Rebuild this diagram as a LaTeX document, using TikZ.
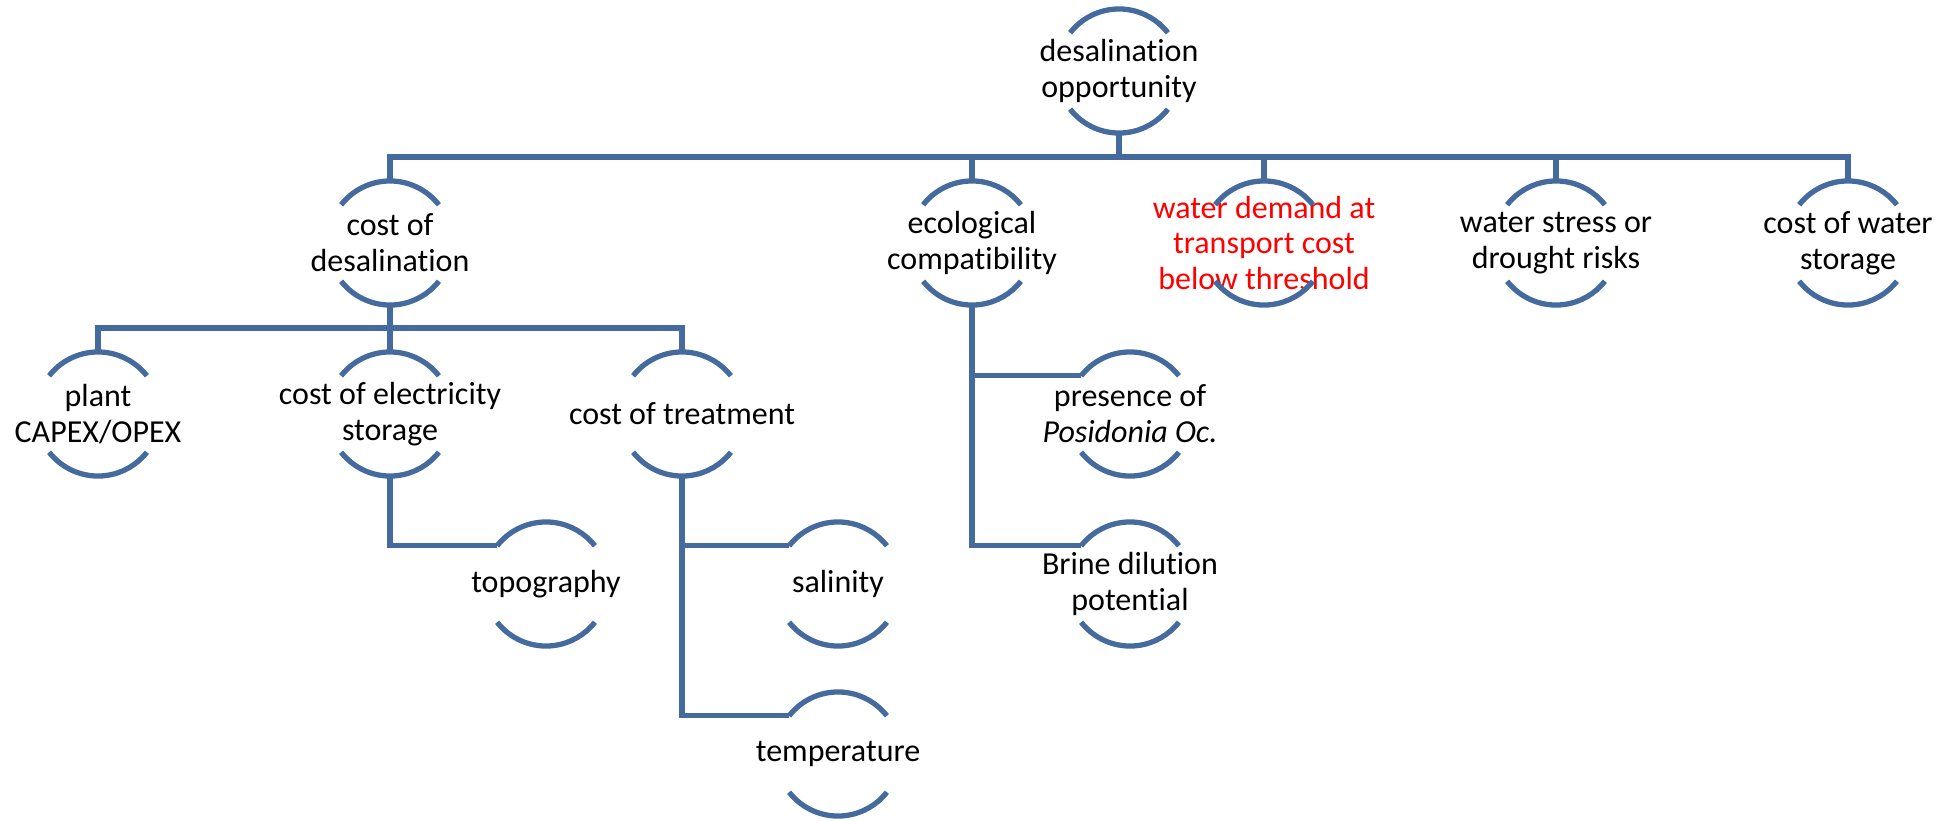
\documentclass[tikz,border=0pt]{standalone}
\usepackage{fontspec}
\setmainfont{Carlito}[Ligatures={NoCommon}]
\definecolor{ringblue}{RGB}{68,106,158}

\begin{document}
\begin{tikzpicture}[
    x=0.01cm, y=-0.01cm,
    font=\fontsize{9.1}{10.2}\selectfont,
    ring/.style={
        circle,
        minimum size=1.24cm,
        inner sep=0pt,
        outer sep=0pt
    },
    ring text/.style={
        align=center,
        inner sep=0pt
    },
    ring line/.style={
        draw=ringblue,
        line width=1.5pt
    },
    link/.style={
        draw=ringblue,
        line width=1.5pt
    }
]

    \useasboundingbox (0,0) rectangle (1960,821);

    % --- Top ---
    \node[ring, label={[ring text]center:desalination\\opportunity}] (opp) at (1119,71) {};

    % --- Second row ---
    \node[ring, label={[ring text]center:cost of\\desalination}] (desal) at (390,243) {};
    \node[ring, label={[ring text]center:ecological\\compatibility}] (eco) at (972,243) {};
    \node[ring, label={[ring text, text=red]center:water demand at\\transport cost\\below threshold}] (demand) at (1264,243) {};
    \node[ring, label={[ring text]center:water stress or\\drought risks}] (stress) at (1556,243) {};
    \node[ring, label={[ring text]center:cost of water\\storage}] (store) at (1848,243) {};

    % --- Third row ---
    \node[ring, label={[ring text]center:plant\\CAPEX/OPEX}] (plant) at (98,414) {};
    \node[ring, label={[ring text]center:cost of electricity\\storage}] (elec) at (390,414) {};
    \node[ring, label={[ring text]center:cost of treatment}] (treat) at (682,414) {};
    \node[ring, label={[ring text]center:presence of\\\textit{Posidonia Oc.}}] (posi) at (1130,414) {};

    % --- Lower rows ---
    \node[ring, label={[ring text]center:topography}] (topo) at (546,584) {};
    \node[ring, label={[ring text]center:salinity}] (sal) at (838,584) {};
    \node[ring, label={[ring text]center:Brine dilution\\potential}] (brine) at (1130,584) {};
    \node[ring, label={[ring text]center:temperature}] (temp) at (838,754) {};

    % --- Rings ---
    \foreach \n in {opp,desal,eco,demand,stress,store,plant,elec,treat,posi,topo,sal,brine,temp} {
        \draw[ring line] (\n.142) arc[start angle=142, end angle=38, radius=0.62cm];
        \draw[ring line] (\n.218) arc[start angle=218, end angle=322, radius=0.62cm];
    }

    % --- Connectors ---
    \foreach \c in {desal,eco,demand,stress,store}
        \draw[link] (opp.south) -- ++(0,24) -| (\c.north);
    \foreach \c in {plant,elec,treat}
        \draw[link] (desal.south) -- ++(0,23) -| (\c.north);

    \draw[link] (elec.south) |- (topo.142);
    \foreach \c in {sal,temp}
        \draw[link] (treat.south) |- (\c.142);
    \foreach \c in {posi,brine}
        \draw[link] (eco.south) |- (\c.142);

\end{tikzpicture}
\end{document}
